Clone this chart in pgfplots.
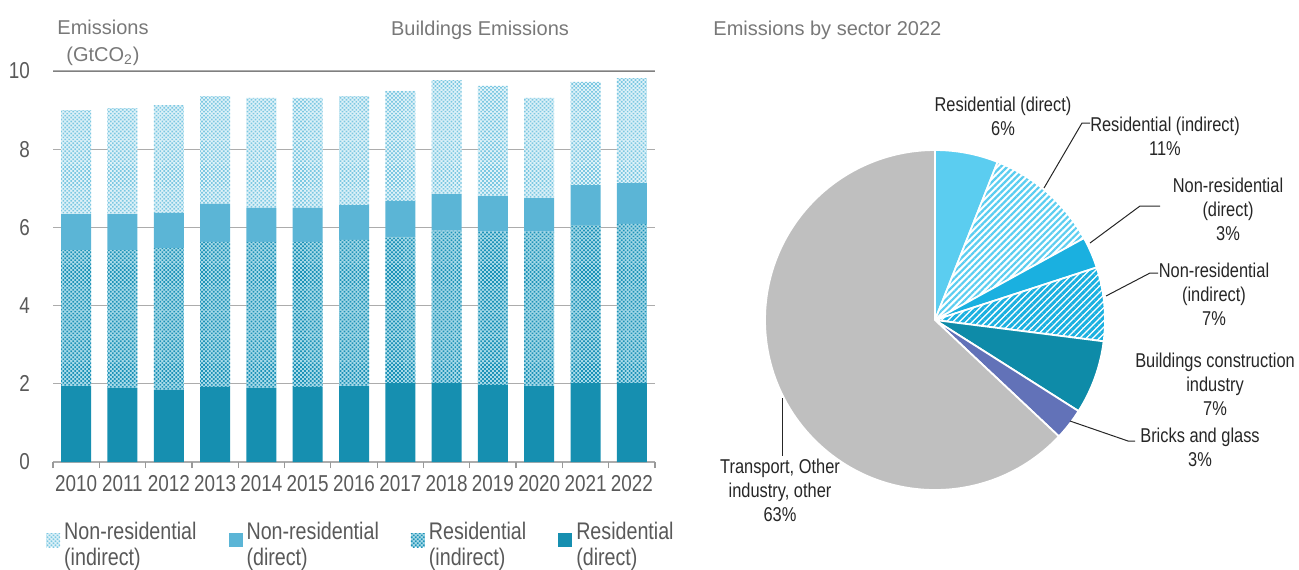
\documentclass[border=0pt]{standalone}
\usepackage{fontspec}
\setmainfont{Liberation Sans}
\newfontfamily\narrow[FakeStretch=0.82]{Liberation Sans}
\usepackage{pgfplots}
\pgfplotsset{compat=1.18}
\usepackage{pgfplotstable}
\usetikzlibrary{patterns.meta}

% bar colours
\definecolor{resdir}{RGB}{22,143,176}
\definecolor{resind}{RGB}{168,218,232}
\definecolor{resinddot}{RGB}{30,147,184}
\definecolor{nrdir}{RGB}{91,181,214}
\definecolor{nrind}{RGB}{224,242,248}
\definecolor{nrinddot}{RGB}{124,200,226}
% pie colours
\definecolor{pierd}{RGB}{91,205,240}
\definecolor{piend}{RGB}{26,176,224}
\definecolor{piebc}{RGB}{14,139,168}
\definecolor{piebg}{RGB}{98,114,184}
\definecolor{pietr}{RGB}{191,191,191}
% text
\definecolor{txt}{RGB}{89,89,89}
\definecolor{ttl}{RGB}{120,120,120}
\definecolor{lbl}{RGB}{38,38,38}

% buildings emissions, GtCO2
\pgfplotstableread{
idx year resdir resind nrdir nrind
0  2010 1.94 3.48 0.92 2.66
1  2011 1.89 3.53 0.92 2.71
2  2012 1.84 3.63 0.90 2.76
3  2013 1.92 3.71 0.97 2.76
4  2014 1.89 3.74 0.87 2.81
5  2015 1.92 3.71 0.87 2.81
6  2016 1.94 3.74 0.89 2.79
7  2017 2.02 3.74 0.92 2.81
8  2018 2.02 3.90 0.93 2.92
9  2019 1.97 3.92 0.91 2.82
10 2020 1.94 3.95 0.86 2.56
11 2021 2.02 4.04 1.02 2.64
12 2022 2.02 4.07 1.04 2.69
}\bldg

\tikzset{
  sl-rd/.style={fill=pierd},
  sl-ri/.style={fill=white, postaction={pattern={Lines[angle=45,distance=2.3pt,line width=1.1pt]}, pattern color=pierd}},
  sl-nd/.style={fill=piend},
  sl-ni/.style={fill=white, postaction={pattern={Lines[angle=45,distance=2.3pt,line width=1.5pt]}, pattern color=piend}},
  sl-bc/.style={fill=piebc},
  sl-bg/.style={fill=piebg},
  sl-tr/.style={fill=pietr},
}

\begin{document}
\begin{tikzpicture}
\path[use as bounding box] (0,0) rectangle (649.5pt,-284.5pt);

\begin{axis}[
  at={(26.5pt,-231pt)}, anchor=south west,
  scale only axis, width=301pt, height=195.5pt,
  ybar stacked, bar width=15pt,
  xmin=-0.5, xmax=12.5, ymin=0, ymax=10,
  xtick={0,...,12},
  xticklabels from table={\bldg}{year},
  minor xtick={-0.5,0.5,...,12.5},
  ytick={0,2,...,10},
  axis line style={draw=none},
  tick pos=left, tick align=outside,
  major tick length=0pt, minor tick length=3pt,
  major tick style={draw=none},
  minor x tick style={draw=gray!80, line width=0.6pt},
  ymajorgrids, grid style={draw=gray!65, line width=0.6pt},
  /pgf/number format/assume math mode=true,
  ticklabel style={font=\narrow\fontsize{11.5}{12}\selectfont, text=txt},
  xticklabel style={yshift=-3pt},
  yticklabel style={xshift=-8pt},
  reverse legend,
  legend columns=4,
  legend style={draw=none, fill=none, inner sep=0pt,
    at={(axis description cs:-0.012,-0.142)}, anchor=north west,
    font=\narrow\fontsize{12}{13}\selectfont, text=txt,
    cells={align=left, anchor=west},
    /tikz/every even column/.append style={column sep=14pt}},
  legend image code/.code={\fill[#1] (0pt,-1pt) rectangle (7pt,6pt);},
]
\addplot[draw=none, fill=resdir] table[x=idx, y=resdir] {\bldg};
\addplot[draw=none, fill=resind, postaction={pattern={Dots[angle=45,distance=1.4pt,radius=0.6pt]}, pattern color=resinddot}] table[x=idx, y=resind] {\bldg};
\addplot[draw=none, fill=nrdir] table[x=idx, y=nrdir] {\bldg};
\addplot[draw=none, fill=nrind, postaction={pattern={Dots[angle=45,distance=1.4pt,radius=0.6pt]}, pattern color=nrinddot}] table[x=idx, y=nrind] {\bldg};
\addlegendentry{Residential\\(direct)}
\addlegendentry{Residential\\(indirect)}
\addlegendentry{Non-residential\\(direct)}
\addlegendentry{Non-residential\\(indirect)}
\draw[draw=gray, line width=0.7pt] (rel axis cs:0,1) -- (rel axis cs:1,1);
\end{axis}

% pie: emissions by sector 2022, shares in %
\begin{axis}[
  at={(467.5pt,-160pt)}, anchor=center,
  scale only axis, width=170pt, height=170pt,
  hide axis, xmin=-1, xmax=1, ymin=-1, ymax=1,
]
\pgfplotsextra{
  \gdef\pieang{90}
  \foreach \v/\s in {6/rd, 11/ri, 3/nd, 7/ni, 7/bc, 3/bg, 63/tr} {
    \pgfmathsetmacro\pieend{\pieang-3.6*\v}
    \path[sl-\s, postaction={draw=white, line width=0.9pt, line join=round}]
      (axis cs:0,0) -- ++(\pieang:85pt) arc[start angle=\pieang, end angle=\pieend, radius=85pt] -- cycle;
    \global\let\pieang\pieend
  }
}
\end{axis}

\begin{scope}[x=0.5pt, y=-0.5pt]
  % titles
  \node[text=ttl, font=\fontsize{10}{12}\selectfont, align=center] at (103,43) {Emissions\\[1.5pt](GtCO\textsubscript{2})};
  \node[text=ttl, font=\fontsize{10}{12}\selectfont] at (480,30) {Buildings Emissions};
  \node[text=ttl, font=\fontsize{10}{12}\selectfont, anchor=west, inner sep=0pt] at (713,30) {Emissions by sector 2022};
  % pie labels
  \begin{scope}[every node/.style={text=lbl, font=\narrow\fontsize{10}{12}\selectfont, align=center}]
    \node at (1003,116) {Residential (direct)\\6\%};
    \node at (1165,136) {Residential (indirect)\\11\%};
    \node at (1228,209) {Non-residential\\(direct)\\3\%};
    \node at (1214,294) {Non-residential\\(indirect)\\7\%};
    \node at (1215,384) {Buildings construction\\industry\\7\%};
    \node at (1200,447) {Bricks and glass\\3\%};
    \node at (780,490) {Transport, Other\\industry, other\\63\%};
  \end{scope}
  % leader lines
  \begin{scope}[draw=lbl, line width=0.5pt]
    \draw (1044,188) -- (1082,123) -- (1090,123);
    \draw (1090,243) -- (1140,206) -- (1160,206);
    \draw (1106,296) -- (1150,273) -- (1158,273);
    \draw (1070,421) -- (1128,441) -- (1135,441);
    \draw (782,398) -- (782,456);
  \end{scope}
\end{scope}
\end{tikzpicture}
\end{document}
